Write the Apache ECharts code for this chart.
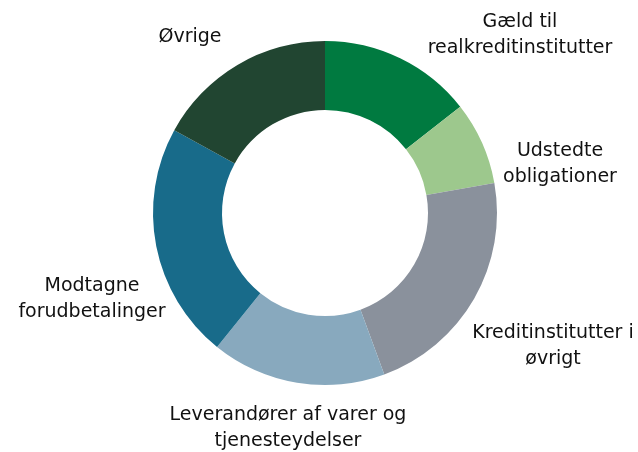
<!DOCTYPE html>
<html>
<head>
<meta charset="utf-8">
<script src="https://cdn.jsdelivr.net/npm/echarts@6/dist/echarts.min.js"></script>
<style>
  html, body { margin: 0; padding: 0; background: #fff; }
  #chart { width: 638px; height: 452px; }
</style>
</head>
<body>
<div id="chart"></div>
<script>
// data (share of total, %), clockwise from 12 o'clock
const categories = [
  'Gæld til\nrealkreditinstitutter',
  'Udstedte\nobligationer',
  'Kreditinstitutter i\nøvrigt',
  'Leverandører af varer og\ntjenesteydelser',
  'Modtagne\nforudbetalinger',
  'Øvrige'
];
const values = [14.4, 7.8, 22.2, 16.4, 22.2, 17.0];
const colors = ['#007A40', '#9DC88D', '#8A919C', '#88A9BE', '#186B8A', '#214531'];

// where each label's centre sits (px)
const labelPos = [
  [520, 35], [560, 164], [553, 346], [288, 428], [92, 299], [190, 37]
];

const chart = echarts.init(document.getElementById('chart'));
chart.setOption({
  animation: false,
  series: [{
    type: 'pie',
    center: [325, 213],
    radius: [103, 172],
    startAngle: 90,
    clockwise: true,
    avoidLabelOverlap: false,
    label: {
      show: true,
      position: 'outside',
      formatter: '{b}',
      color: '#111',
      fontFamily: 'DejaVu Sans',
      fontSize: 19,
      lineHeight: 26
    },
    labelLine: { show: false },
    labelLayout: function (p) {
      const pos = labelPos[p.dataIndex];
      return { x: pos[0], y: pos[1], align: 'center', verticalAlign: 'middle' };
    },
    emphasis: { disabled: true },
    data: categories.map((name, i) => ({
      name: name,
      value: values[i],
      itemStyle: { color: colors[i] }
    }))
  }]
});
</script>
</body>
</html>
